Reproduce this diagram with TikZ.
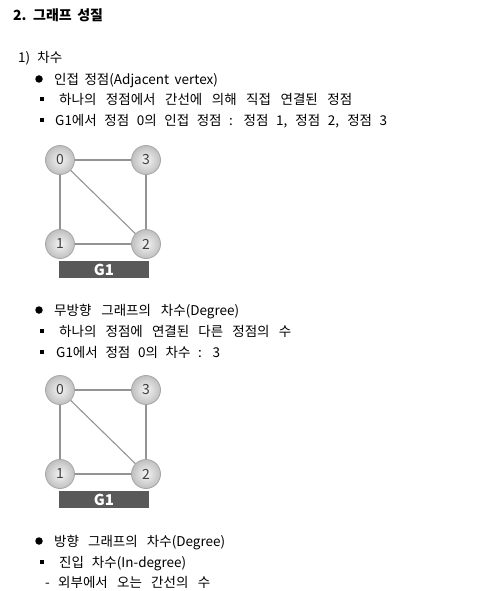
\documentclass[tikz,border=0pt]{standalone}
\usepackage{fontspec}
\setmainfont{Noto Sans CJK KR}
\newcommand{\fitw}[2]{\makebox[#1pt][s]{\spaceskip=5.5pt plus 20pt minus 0pt\relax #2}}
\begin{document}
\begin{tikzpicture}[x=1pt,y=-1pt,
  txt/.style={anchor=base west,inner sep=0pt,font=\fontsize{13.5}{15}\selectfont},
  vtx/.style={circle,minimum size=29pt,inner sep=0pt,draw=gray!70,line width=0.8pt,
    inner color=gray!8,outer color=gray!50,text=black!75,font=\fontsize{14}{14}\selectfont},
  edge/.style={draw=gray!85,line width=1.1pt},
  gbar/.style={fill=black!65,draw=none,text=white,inner sep=0pt,minimum width=90pt,minimum height=17pt,font=\fontsize{15}{15}\selectfont\bfseries},
  dotb/.style={circle,fill=black,inner sep=0pt,minimum size=7.5pt},
  sqb/.style={rectangle,fill=black,inner sep=0pt,minimum size=4.5pt}]
\useasboundingbox (0,0) rectangle (496,591);
% title and headings
\node[txt,font=\fontsize{14}{16}\selectfont\bfseries] (t0) at (13,20.5) {\fitw{89}{2. 그래프 성질}};
\node[txt] (t1) at (18,62.5) {\fitw{44}{1) 차수}};
\node[dotb] (b1) at (39,79) {};
\node[txt] (t2) at (54,84.5) {\fitw{163}{인접 정점(Adjacent vertex)}};
\node[sqb] (s1) at (42,99) {};
\node[txt] (t3) at (59,104.5) {\fitw{293}{하나의 정점에서 간선에 의해 직접 연결된 정점}};
\node[sqb] (s2) at (42,120) {};
\node[txt] (t4) at (55,125.5) {\fitw{332}{G1에서 정점 0의 인접 정점 : 정점 1, 정점 2, 정점 3}};
% graph 1
\node[vtx] (a0) at (60,160) {0};
\node[vtx] (a3) at (146,160) {3};
\node[vtx] (a1) at (60,244) {1};
\node[vtx] (a2) at (146,244) {2};
\draw[edge] (a0) -- (a3);
\draw[edge] (a0) -- (a1);
\draw[edge] (a0) -- (a2);
\draw[edge] (a1) -- (a2);
\draw[edge] (a3) -- (a2);
\node[gbar] (g1) at (104,269.5) {G1};
% section 2
\node[dotb] (b2) at (39,310) {};
\node[txt] (t5) at (54,315.5) {\fitw{185}{무방향 그래프의 차수(Degree)}};
\node[sqb] (s3) at (42,331) {};
\node[txt] (t6) at (59,336.5) {\fitw{232}{하나의 정점에 연결된 다른 정점의 수}};
\node[sqb] (s4) at (42,352) {};
\node[txt] (t7) at (56,357.5) {\fitw{164}{G1에서 정점 0의 차수 : 3}};
% graph 2
\node[vtx] (c0) at (60,390) {0};
\node[vtx] (c3) at (146,390) {3};
\node[vtx] (c1) at (60,474) {1};
\node[vtx] (c2) at (146,474) {2};
\draw[edge] (c0) -- (c3);
\draw[edge] (c0) -- (c1);
\draw[edge] (c0) -- (c2);
\draw[edge] (c1) -- (c2);
\draw[edge] (c3) -- (c2);
\node[gbar] (g2) at (104,499.5) {G1};
% section 3
\node[dotb] (b3) at (39,541) {};
\node[txt] (t8) at (54,546.5) {\fitw{171}{방향 그래프의 차수(Degree)}};
\node[sqb] (s5) at (42,562) {};
\node[txt] (t9) at (59,567.5) {\fitw{127}{진입 차수(In-degree)}};
\node[txt] (d1) at (45,587.5) {-};
\node[txt] (t10) at (58,587.5) {\fitw{152}{외부에서 오는 간선의 수}};
\end{tikzpicture}
\end{document}
